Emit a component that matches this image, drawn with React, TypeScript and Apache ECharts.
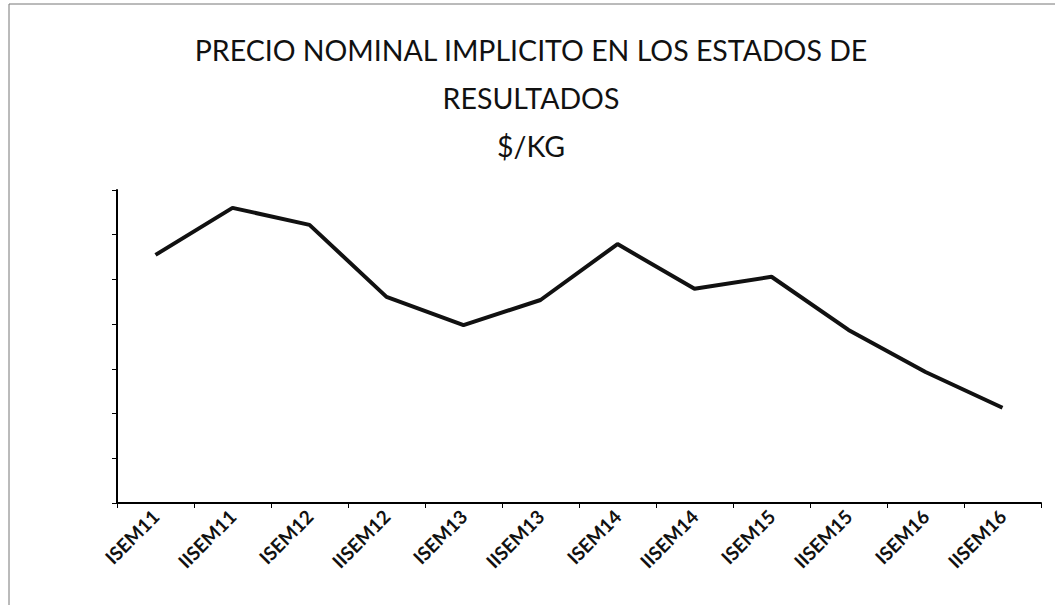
import React, { useEffect, useRef } from "react";
import * as echarts from "echarts";

const categories = ["ISEM11", "IISEM11", "ISEM12", "IISEM12", "ISEM13", "IISEM13", "ISEM14", "IISEM14", "ISEM15", "IISEM15", "ISEM16", "IISEM16"];
const values = [5.55, 6.6, 6.22, 4.61, 3.98, 4.54, 5.79, 4.79, 5.06, 3.87, 2.93, 2.13];
const titleLines = ["PRECIO NOMINAL IMPLICITO EN LOS ESTADOS DE", "RESULTADOS", "$/KG"];

export default function App() {
  const ref = useRef<HTMLDivElement>(null);
  useEffect(() => {
    if (!ref.current) return;
    const chart = echarts.init(ref.current, undefined, { renderer: "svg" });
    chart.setOption({
      animation: false,
      backgroundColor: "#fff",
      title: {
        text: titleLines.join("\n"),
        left: 526,
        textAlign: "center",
        top: 21,
        textStyle: { fontFamily: "Lato", fontSize: 28.5, fontWeight: "normal", color: "#111", lineHeight: 48 },
      },
      graphic: [
        { type: "line", shape: { x1: 9, y1: 4, x2: 9, y2: 605 }, style: { stroke: "#777", lineWidth: 1 } },
        { type: "line", shape: { x1: 9, y1: 4, x2: 1055, y2: 4 }, style: { stroke: "#777", lineWidth: 1 } },
      ],
      grid: { left: 117, right: 14, top: 190, bottom: 102 },
      xAxis: {
        type: "category",
        data: categories,
        boundaryGap: true,
        axisLine: { lineStyle: { color: "#000", width: 2 } },
        axisTick: { show: true, length: 5, lineStyle: { color: "#000" } },
        axisLabel: { rotate: 45, interval: 0, fontFamily: "Lato", fontWeight: "bold", fontSize: 19, color: "#111", margin: 10 },
      },
      yAxis: {
        type: "value",
        min: 0,
        max: 7,
        interval: 1,
        axisLine: { show: true, lineStyle: { color: "#000", width: 2 } },
        axisTick: { show: true, length: 5, lineStyle: { color: "#000" } },
        axisLabel: { show: false },
        splitLine: { show: false },
      },
      series: [
        {
          type: "line",
          data: values,
          showSymbol: false,
          lineStyle: { color: "#111", width: 4 },
        },
      ],
    });
    return () => chart.dispose();
  }, []);
  return <div ref={ref} style={{ position: "fixed", left: 0, top: 0, width: 1055, height: 605 }} />;
}
